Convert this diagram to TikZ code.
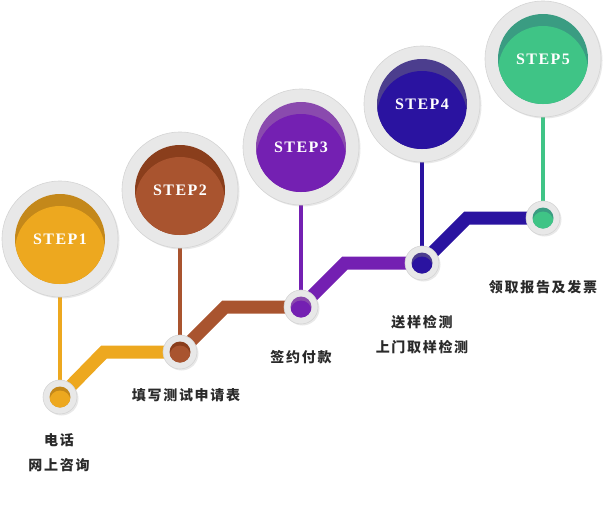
\documentclass[tikz,border=0pt]{standalone}
\usepackage{fontspec}
\setmainfont{Liberation Serif}
\newfontfamily\stepfont[LetterSpace=9]{Liberation Serif}
\newfontfamily\cjkfont[LetterSpace=12]{Noto Sans CJK SC}
\usetikzlibrary{calc,positioning,backgrounds,shadows}
\definecolor{ring}{HTML}{E8E8E8}
\definecolor{ringedge}{HTML}{D4D4D4}
\definecolor{ink}{HTML}{2A2A2A}
\definecolor{orangeA}{HTML}{EDA81F}\definecolor{orangeB}{HTML}{C4881A}
\definecolor{brownA}{HTML}{A9542F}\definecolor{brownB}{HTML}{8A3E1C}
\definecolor{purpleA}{HTML}{7420B2}\definecolor{purpleB}{HTML}{8A4AAE}
\definecolor{navyA}{HTML}{2A13A0}\definecolor{navyB}{HTML}{4C3E8E}
\definecolor{greenA}{HTML}{3FC486}\definecolor{greenB}{HTML}{3A9C82}
\tikzset{
  ballbase/.style={circle,inner sep=0pt,fill=ring,draw=ringedge,line width=.6pt,
    drop shadow={shadow xshift=1.5pt,shadow yshift=-1.5pt,opacity=.18}},
  stepball/.style 2 args={ballbase,minimum size=116pt,text=white,font=\stepfont\bfseries\fontsize{16}{16}\selectfont,
    path picture={\fill[#2](path picture bounding box.center)circle[radius=45pt];
      \begin{scope}\clip(path picture bounding box.center)circle[radius=45pt];
      \fill[#1]([yshift=-12pt]path picture bounding box.center)circle[radius=45pt];\end{scope}}},
  dot/.style 2 args={ballbase,minimum size=34pt,
    path picture={\fill[#2](path picture bounding box.center)circle[radius=10.5pt];
      \begin{scope}\clip(path picture bounding box.center)circle[radius=10.5pt];
      \fill[#1]([yshift=-4pt]path picture bounding box.center)circle[radius=10.5pt];\end{scope}}},
  stem/.style={line width=3.5pt},
  band/.style={line width=13pt},
  note/.style={text=ink,font=\cjkfont\bfseries\fontsize{14}{25}\selectfont,align=center,inner sep=0pt}}
\begin{document}
\begin{tikzpicture}[x=1pt,y=-1pt]
\useasboundingbox(0,0)rectangle(610,520);
\node[stepball={orangeA}{orangeB}](s1)at(60,239){STEP1};
\node[stepball={brownA}{brownB}](s2)at(180,190){STEP2};
\node[stepball={purpleA}{purpleB}](s3)at(301,147){STEP3};
\node[stepball={navyA}{navyB}](s4)at(422,104){STEP4};
\node[stepball={greenA}{greenB}](s5)at(543,59){STEP5};
\node[dot={orangeA}{orangeB}](d1)at(60,397){};
\node[dot={brownA}{brownB}](d2)at(180,352){};
\node[dot={purpleA}{purpleB}](d3)at(301,307){};
\node[dot={navyA}{navyB}](d4)at(422,263){};
\node[dot={greenA}{greenB}](d5)at(543,218){};
\coordinate(b1)at(104,352);\coordinate(b2)at(225,307);\coordinate(b3)at(345,263);\coordinate(b4)at(467,218);
\begin{pgfonlayer}{background}
\draw[stem,orangeA](s1)--(d1);\draw[stem,brownA](s2)--(d2);\draw[stem,purpleA](s3)--(d3);
\draw[stem,navyA](s4)--(d4);\draw[stem,greenA](s5)--(d5);
\draw[band,orangeA](d1.center)--(b1)--(d2.center);
\draw[band,brownA](d2.center)--(b2)--(d3.center);
\draw[band,purpleA](d3.center)--(b3)--(d4.center);
\draw[band,navyA](d4.center)--(b4)--(d5.center);
\end{pgfonlayer}
\node[note](t1)at(59,453){电话\\网上咨询};
\node[note](t2)at(186,395){填写测试申请表};
\node[note](t3)at(301,357){签约付款};
\node[note](t4)at(422,335){送样检测\\上门取样检测};
\node[note](t5)at(543,287){领取报告及发票};
\end{tikzpicture}
\end{document}
